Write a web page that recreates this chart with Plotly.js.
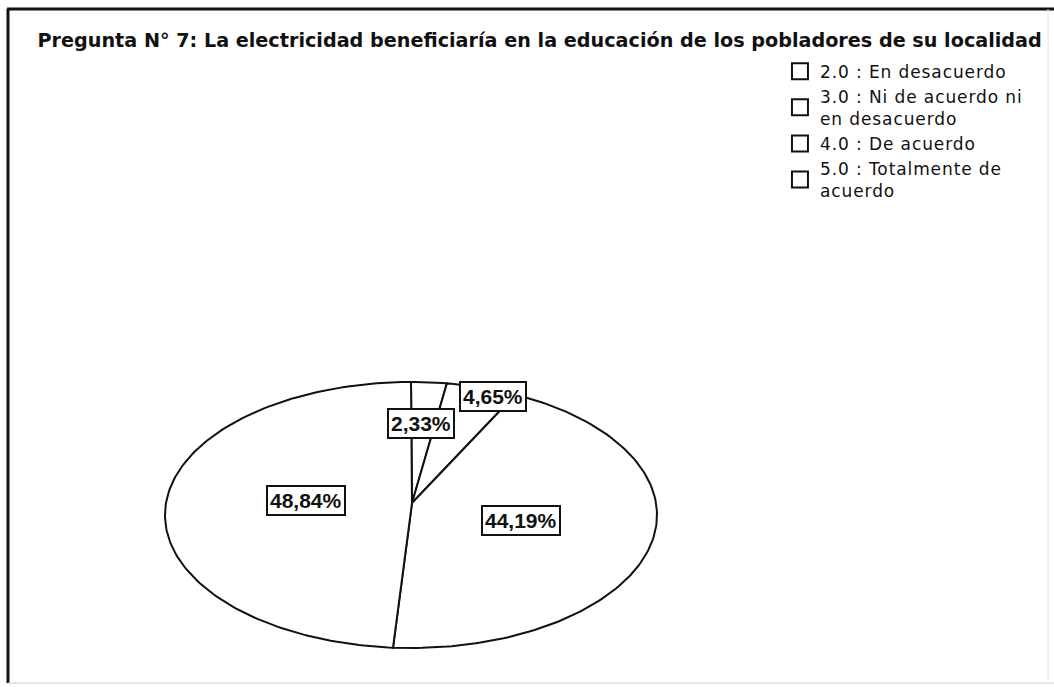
<!DOCTYPE html>
<html>
<head>
<meta charset="utf-8">
<script src="https://cdn.plot.ly/plotly-3.0.1.min.js"></script>
<style>
  html, body { margin: 0; padding: 0; background: #fff; }
  #pie-plot { width: 1054px; height: 687px; }
  .legendtext { letter-spacing: 0.9px; }
</style>
</head>
<body>
<div id="pie-plot"></div>
<script>
// Categories and their percentages (clockwise from the top)
var categories = ["2.0 : En desacuerdo", "3.0 : Ni de acuerdo ni<br>en desacuerdo", "4.0 : De acuerdo", "5.0 : Totalmente de<br>acuerdo"];
var percents = [2.33, 4.65, 44.19, 48.84];
var labelTexts = ["2,33%", "4,65%", "44,19%", "48,84%"];

// Ellipse geometry (in pixel-like axis units)
var cx = 411, cy = 515, rx = 246, ry = 133;
var vx = 412, vy = 503;           // where the slice edges meet
// label placement as fractions of the radius, measured from the vertex
var labelFx = [0.50, 1.14, 0.46, 0.43];
var labelFy = [0.60, 0.84, 0.51, 0.43];

var total = percents.reduce((s, v) => s + v, 0);

function pt(theta) {
  return [cx + rx * Math.sin(theta), cy - ry * Math.cos(theta)];
}

var traces = [];
var annotations = [];
var start = 0;
percents.forEach(function(v, i) {
  var span = v / total * 2 * Math.PI;
  var xs = [vx], ys = [vy];
  var n = Math.max(4, Math.ceil(span / 0.02));
  for (var k = 0; k <= n; k++) {
    var p = pt(start + span * k / n);
    xs.push(p[0]); ys.push(p[1]);
  }
  xs.push(vx); ys.push(vy);
  traces.push({
    x: xs, y: ys,
    type: "scatter",
    mode: "lines",
    fill: "toself",
    fillcolor: "#ffffff",
    line: { color: "#111", width: 2 },
    hoverinfo: "skip",
    showlegend: false
  });

  var mid = start + span / 2;
  annotations.push({
    x: vx + rx * Math.sin(mid) * labelFx[i],
    y: vy - ry * Math.cos(mid) * labelFy[i],
    xref: "x", yref: "y",
    text: "<b>" + labelTexts[i] + "</b>",
    showarrow: false,
    bgcolor: "#ffffff",
    bordercolor: "#111",
    borderwidth: 2,
    borderpad: 2,
    font: { family: "Liberation Sans, Arial, sans-serif", size: 21, color: "#111" }
  });
  start += span;
});

// legend entries (empty squares)
categories.forEach(function(c) {
  traces.push({
    x: [null], y: [null],
    type: "scatter",
    mode: "markers",
    name: c,
    marker: { symbol: "square-open", size: 18, color: "#111", line: { width: 2, color: "#111" } },
    hoverinfo: "skip"
  });
});

var layout = {
  width: 1054,
  height: 687,
  margin: { l: 0, r: 0, t: 0, b: 0 },
  paper_bgcolor: "#ffffff",
  plot_bgcolor: "#ffffff",
  title: {
    text: "<b>Pregunta N° 7: La electricidad beneficiaría en la educación de los pobladores de su localidad</b>",
    x: 0.512, xanchor: "center",
    y: 0.941, yanchor: "middle",
    font: { family: "DejaVu Sans, sans-serif", size: 19.2, color: "#111" }
  },
  xaxis: { range: [0, 1054], visible: false, fixedrange: true },
  yaxis: { range: [687, 0], visible: false, fixedrange: true },
  showlegend: true,
  legend: {
    x: 0.74, xanchor: "left",
    y: 0.922, yanchor: "top",
    bgcolor: "rgba(0,0,0,0)",
    font: { family: "DejaVu Sans, sans-serif", size: 17, color: "#111" },
    tracegroupgap: 0
  },
  annotations: annotations,
  shapes: [
    { type: "line", xref: "paper", yref: "paper", x0: 8 / 1054, x1: 8 / 1054, y0: 1 - 9 / 687, y1: 1 - 683 / 687, line: { color: "#111", width: 3 } },
    { type: "line", xref: "paper", yref: "paper", x0: 7 / 1054, x1: 1, y0: 1 - 9 / 687, y1: 1 - 9 / 687, line: { color: "#111", width: 3 } },
    { type: "line", xref: "paper", yref: "paper", x0: 8 / 1054, x1: 1, y0: 1 - 683 / 687, y1: 1 - 683 / 687, line: { color: "#ccc", width: 1 } },
    { type: "line", xref: "paper", yref: "paper", x0: 1048 / 1054, x1: 1048 / 1054, y0: 1 - 9 / 687, y1: 1 - 683 / 687, line: { color: "#e4e4e4", width: 1 } }
  ]
};

Plotly.newPlot("pie-plot", traces, layout, { displayModeBar: false, staticPlot: true });
</script>
</body>
</html>
